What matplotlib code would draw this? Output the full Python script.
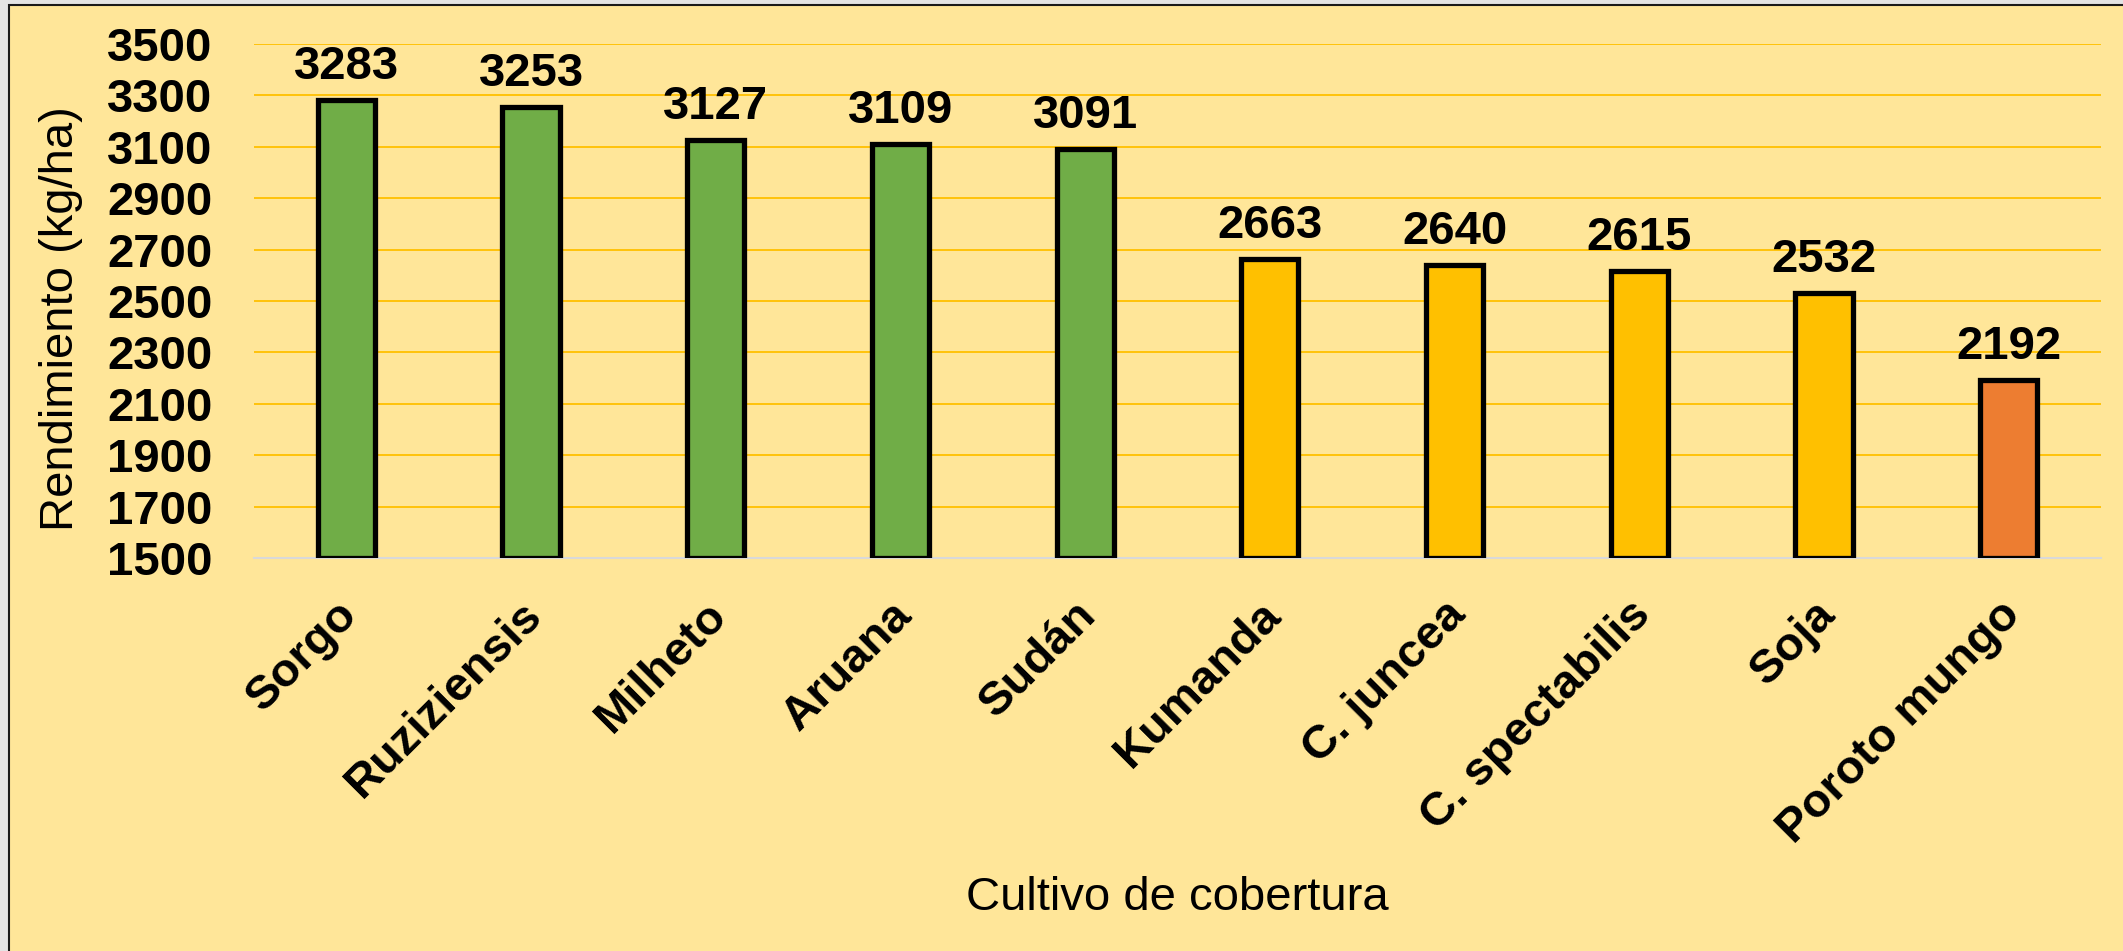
import matplotlib
matplotlib.use("Agg")
import matplotlib.pyplot as plt
import matplotlib.transforms as mtransforms
from matplotlib.patches import Rectangle

plt.rcParams["font.family"] = ["Liberation Sans", "DejaVu Sans"]

# Data
cultivos = ["Sorgo", "Ruziziensis", "Milheto", "Aruana", "Sudán",
            "Kumanda", "C. juncea", "C. spectabilis", "Soja", "Poroto mungo"]
rendimiento = [3283, 3253, 3127, 3109, 3091, 2663, 2640, 2615, 2532, 2192]
colores = ["#70AD47"] * 5 + ["#FFC000"] * 4 + ["#ED7D31"]
y_ticks = list(range(1500, 3501, 200))
y_min, y_max = 1500, 3500

W, H = 2123, 951
fig = plt.figure(figsize=(W / 100, H / 100), dpi=100)
fig.patch.set_facecolor("#E4E4E4")

# chart frame (left and top border visible)
frame = Rectangle((9 / W, -0.1), 1.2, 1 - 5 / H + 0.1, transform=fig.transFigure,
                  facecolor="#FFE699", edgecolor="#1A1A1A", linewidth=1.5, zorder=-5)
fig.patches.append(frame)

ax = fig.add_axes([254 / W, 1 - 558 / H, (2101 - 254) / W, (558 - 44) / H])
ax.set_zorder(1)
ax.set_facecolor("none")

x = list(range(len(cultivos)))
heights = [v - y_min for v in rendimiento]
ax.bar(x, heights, bottom=y_min, width=0.31, color=colores,
       edgecolor="black", linewidth=3.8, zorder=3)

for xi, v in zip(x, rendimiento):
    ax.annotate(str(v), (xi, v), xytext=(0, 8), textcoords="offset points",
                ha="center", va="bottom", fontsize=34, fontweight="bold", zorder=4)

ax.set_xlim(-0.5, len(cultivos) - 0.5)
ax.set_ylim(y_min, y_max)
ax.set_yticks(y_ticks)
ax.set_yticklabels([str(t) for t in y_ticks], fontsize=34, fontweight="bold")
ax.set_xticks(x)
ax.set_xticklabels(cultivos, fontsize=34, fontweight="bold", rotation=45,
                   ha="right", va="top", rotation_mode="anchor")
ax.tick_params(axis="y", length=0, pad=30)
ax.tick_params(axis="x", length=0, pad=25)

# nudge rotated labels a bit to the left
shift = mtransforms.ScaledTranslation(-0.11, 0, fig.dpi_scale_trans)
for lbl in ax.get_xticklabels():
    lbl.set_transform(lbl.get_transform() + shift)

ax.grid(axis="y", color="#FFC000", linewidth=1.3, zorder=1)
ax.set_axisbelow(True)
for s in ["top", "right", "left"]:
    ax.spines[s].set_visible(False)
ax.spines["bottom"].set_color("#D9D9D9")
ax.spines["bottom"].set_linewidth(1.5)
ax.spines["bottom"].set_zorder(2)

ax.set_ylabel("Rendimiento (kg/ha)", fontsize=34, va="center")
ax.yaxis.set_label_coords(-0.1045, 0.465)
ax.set_xlabel("Cultivo de cobertura", fontsize=34, va="center")
ax.xaxis.set_label_coords(0.5, -0.661)

fig.savefig("out.png", dpi=100, facecolor=fig.get_facecolor())
